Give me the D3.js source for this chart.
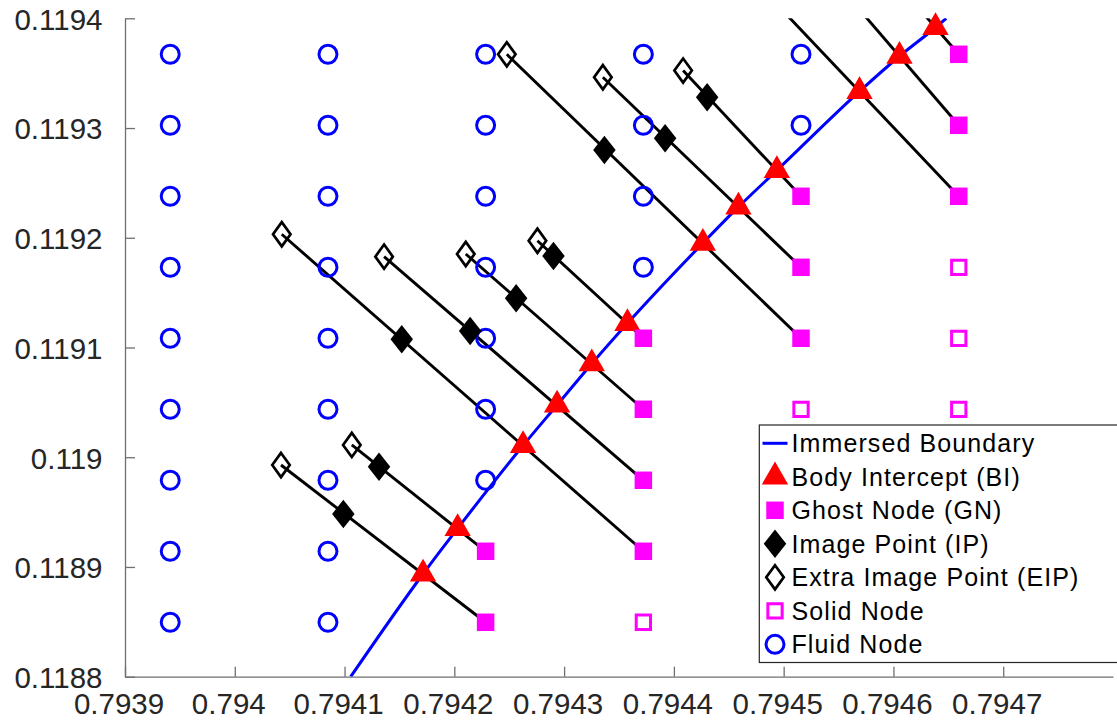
<!DOCTYPE html>
<html>
<head>
<meta charset="utf-8">
<script src="https://cdn.jsdelivr.net/npm/d3@7"></script>
<style>
  body { margin: 0; background: #fff; }
  svg { display: block; }
  text { font-family: "Liberation Sans", Arial, Helvetica, sans-serif; }
</style>
</head>
<body>
<svg id="chart" width="1117" height="720"></svg>
<script>
// ---- axis limits and ticks ----
const xDomain = [0.7939, 0.7948];
const yDomain = [0.1188, 0.1194];
const xTickValues = [0.7939, 0.7940, 0.7941, 0.7942, 0.7943, 0.7944, 0.7945, 0.7946, 0.7947];
const xTickLabels = ["0.7939", "0.794", "0.7941", "0.7942", "0.7943", "0.7944", "0.7945", "0.7946", "0.7947"];
const yTickValues = [0.1188, 0.1189, 0.1190, 0.1191, 0.1192, 0.1193, 0.1194];
const yTickLabels = ["0.1188", "0.1189", "0.119", "0.1191", "0.1192", "0.1193", "0.1194"];

// ---- Cartesian grid (node coordinates) ----
const gridX = [0.7939412, 0.7940849, 0.7942285, 0.7943722, 0.7945158, 0.7946595];
const gridY = [0.1188496, 0.1189143, 0.1189790, 0.1190437, 0.1191084, 0.1191731, 0.1192378, 0.1193025, 0.1193672];
// node classification, one string per grid row from bottom to top
// F = fluid node, G = ghost node, S = solid node
const nodeKinds = [
  "FFGSSS",
  "FFGGSS",
  "FFFGSS",
  "FFFGSS",
  "FFFGGS",
  "FFFFGS",
  "FFFFGG",
  "FFFFFG",
  "FFFFFG"
];

// ---- ghost-node reconstruction stencil (ordered along the boundary) ----
const gnCol = [2, 2, 3, 3, 3, 3, 4, 4, 4, 5, 5, 5];
const gnRow = [0, 1, 1, 2, 3, 4, 4, 5, 6, 6, 7, 8];
const biX  = [0.7941715, 0.7942030, 0.7942626, 0.7942936, 0.7943252, 0.7943577, 0.7944264, 0.7944588, 0.7944938, 0.7945691, 0.7946055, 0.7946383];
const biY  = [0.1188936, 0.1189351, 0.1190107, 0.1190476, 0.1190852, 0.1191220, 0.1191951, 0.1192281, 0.1192614, 0.1193334, 0.1193654, 0.1193916];
const ipX  = [0.7940989, 0.7941314, 0.7941521, 0.7942144, 0.7942563, 0.7942903, 0.7943367, 0.7943920, 0.7944303, 0.7944777, 0.7945465, 0.7945779];
const ipY  = [0.1189483, 0.1189914, 0.1191075, 0.1191150, 0.1191448, 0.1191834, 0.1192800, 0.1192907, 0.1193280, 0.1194298, 0.1194342, 0.1194614];
const eipX = [0.7940421, 0.7941066, 0.7940428, 0.7941360, 0.7942104, 0.7942757, 0.7942478, 0.7943353, 0.7944084, 0.7943867, 0.7944929, 0.7945560];
const eipY = [0.1189929, 0.1190112, 0.1192032, 0.1191828, 0.1191852, 0.1191973, 0.1193672, 0.1193463, 0.1193524, 0.1195257, 0.1194967, 0.1194865];

// ---- immersed boundary end points (curve runs through the body intercepts) ----
const boundaryStart = [0.7941056, 0.1188];
const boundaryEnd   = [0.7946481, 0.1194];

const legendLabels = [
  "Immersed Boundary",
  "Body Intercept (BI)",
  "Ghost Node (GN)",
  "Image Point (IP)",
  "Extra Image Point (EIP)",
  "Solid Node",
  "Fluid Node"
];

// ---- layout ----
const plot = { left: 125, right: 1113, top: 18.3, bottom: 676.7 };
const BLUE = "#0000ff", RED = "#ff0000", MAGENTA = "#ff00ff", BLACK = "#000000";
const AXIS = "#6f6f6f", TICKTEXT = "#262626";

const svg = d3.select("#chart");
const x = d3.scaleLinear().domain(xDomain).range([plot.left, plot.right]);
const y = d3.scaleLinear().domain(yDomain).range([plot.bottom, plot.top]);

svg.append("defs").append("clipPath").attr("id", "plotClip")
  .append("rect")
  .attr("x", plot.left).attr("y", plot.top)
  .attr("width", plot.right - plot.left).attr("height", plot.bottom - plot.top);

// marker shapes
const diamondPath = (w, h) => `M0,${-h / 2}L${w / 2},0L0,${h / 2}L${-w / 2},0Z`;
const squarePath = s => `M${-s / 2},${-s / 2}h${s}v${s}h${-s}Z`;
const trianglePath = d3.symbol().type(d3.symbolTriangle).size(300)();

const marker = {
  fluid:  g => g.append("circle").attr("r", 9).attr("fill", "none").attr("stroke", BLUE).attr("stroke-width", 3),
  solid:  g => g.append("path").attr("d", squarePath(14.3)).attr("fill", "none").attr("stroke", MAGENTA).attr("stroke-width", 3),
  bi:     g => g.append("path").attr("d", trianglePath).attr("fill", RED),
  ghost:  g => g.append("path").attr("d", squarePath(17.5)).attr("fill", MAGENTA),
  ip:     g => g.append("path").attr("d", diamondPath(22.5, 28.5)).attr("fill", BLACK),
  eip:    g => g.append("path").attr("d", diamondPath(17.5, 24.2)).attr("fill", "none").attr("stroke", BLACK).attr("stroke-width", 2.7)
};

const inView = (px, py) => px >= xDomain[0] && px <= xDomain[1] && py >= yDomain[0] && py <= yDomain[1];

function drawMarkers(layer, pts, kind) {
  pts.filter(p => inView(p[0], p[1])).forEach(p => {
    const g = layer.append("g").attr("transform", `translate(${x(p[0])},${y(p[1])})`);
    marker[kind](g);
  });
}

// collect grid nodes by kind
const nodesOf = kind => {
  const out = [];
  nodeKinds.forEach((row, j) => row.split("").forEach((k, i) => { if (k === kind) out.push([gridX[i], gridY[j]]); }));
  return out;
};

const gPlot = svg.append("g");
const gClip = gPlot.append("g").attr("clip-path", "url(#plotClip)");

// fluid and solid nodes
drawMarkers(gPlot, nodesOf("F"), "fluid");
drawMarkers(gPlot, nodesOf("S"), "solid");

// immersed boundary through the body intercepts
const boundary = [boundaryStart].concat(biX.map((v, i) => [v, biY[i]]), [boundaryEnd]);
gClip.append("path")
  .attr("d", d3.line().x(d => x(d[0])).y(d => y(d[1])).curve(d3.curveMonotoneX)(boundary))
  .attr("fill", "none").attr("stroke", BLUE).attr("stroke-width", 3);

// body intercepts and ghost nodes
drawMarkers(gPlot, biX.map((v, i) => [v, biY[i]]), "bi");
drawMarkers(gPlot, nodesOf("G"), "ghost");

// normal probes GN -> BI -> IP -> EIP
gnCol.forEach((c, i) => {
  gClip.append("line")
    .attr("x1", x(gridX[c])).attr("y1", y(gridY[gnRow[i]]))
    .attr("x2", x(eipX[i])).attr("y2", y(eipY[i]))
    .attr("stroke", BLACK).attr("stroke-width", 2.9);
});

drawMarkers(gPlot, ipX.map((v, i) => [v, ipY[i]]), "ip");
drawMarkers(gPlot, eipX.map((v, i) => [v, eipY[i]]), "eip");

// ---- axes (inward ticks, no box) ----
const fmtX = d => xTickLabels[xTickValues.findIndex(v => Math.abs(v - d) < 1e-9)];
const fmtY = d => yTickLabels[yTickValues.findIndex(v => Math.abs(v - d) < 1e-9)];

const xAxis = svg.append("g").attr("transform", `translate(0,${plot.bottom})`)
  .call(d3.axisBottom(x).tickValues(xTickValues).tickFormat(fmtX)
    .tickSizeInner(-10).tickSizeOuter(0).tickPadding(16.5));
const yAxis = svg.append("g").attr("transform", `translate(${plot.left},0)`)
  .call(d3.axisLeft(y).tickValues(yTickValues).tickFormat(fmtY)
    .tickSizeInner(-10).tickSizeOuter(0).tickPadding(22.5));

[xAxis, yAxis].forEach(a => {
  a.select(".domain").attr("stroke", AXIS).attr("stroke-width", 1.3);
  a.selectAll(".tick line").attr("stroke", AXIS).attr("stroke-width", 1.3);
  a.selectAll(".tick text").attr("fill", TICKTEXT)
    .style("font-family", '"Liberation Sans", Arial, sans-serif').style("font-size", "29.5px");
});
xAxis.selectAll(".tick text").attr("dx", -6.5);
yAxis.selectAll(".tick text").attr("dy", "0.37em");

// ---- legend ----
const leg = { left: 759.3, top: 425, bottom: 662.5, right: 1125, rowTop: 443.3, rowStep: 33.5, symX: 775, textX: 791.5 };
const gLeg = svg.append("g");
gLeg.append("rect")
  .attr("x", leg.left).attr("y", leg.top)
  .attr("width", leg.right - leg.left).attr("height", leg.bottom - leg.top)
  .attr("fill", "#fff").attr("stroke", "#262626").attr("stroke-width", 1.2);

const legendKinds = ["line", "bi", "ghost", "ip", "eip", "solid", "fluid"];
legendLabels.forEach((label, i) => {
  const cy = leg.rowTop + i * leg.rowStep;
  const kind = legendKinds[i];
  if (kind === "line") {
    gLeg.append("line").attr("x1", leg.symX - 12.5).attr("x2", leg.symX + 12.5)
      .attr("y1", cy).attr("y2", cy).attr("stroke", BLUE).attr("stroke-width", 3);
  } else {
    marker[kind](gLeg.append("g").attr("transform", `translate(${leg.symX},${cy})`));
  }
  gLeg.append("text").attr("x", leg.textX).attr("y", cy).attr("dy", "0.36em")
    .attr("fill", "#000").style("font-size", "25px").style("letter-spacing", "1.1px")
    .text(label);
});
</script>
</body>
</html>
